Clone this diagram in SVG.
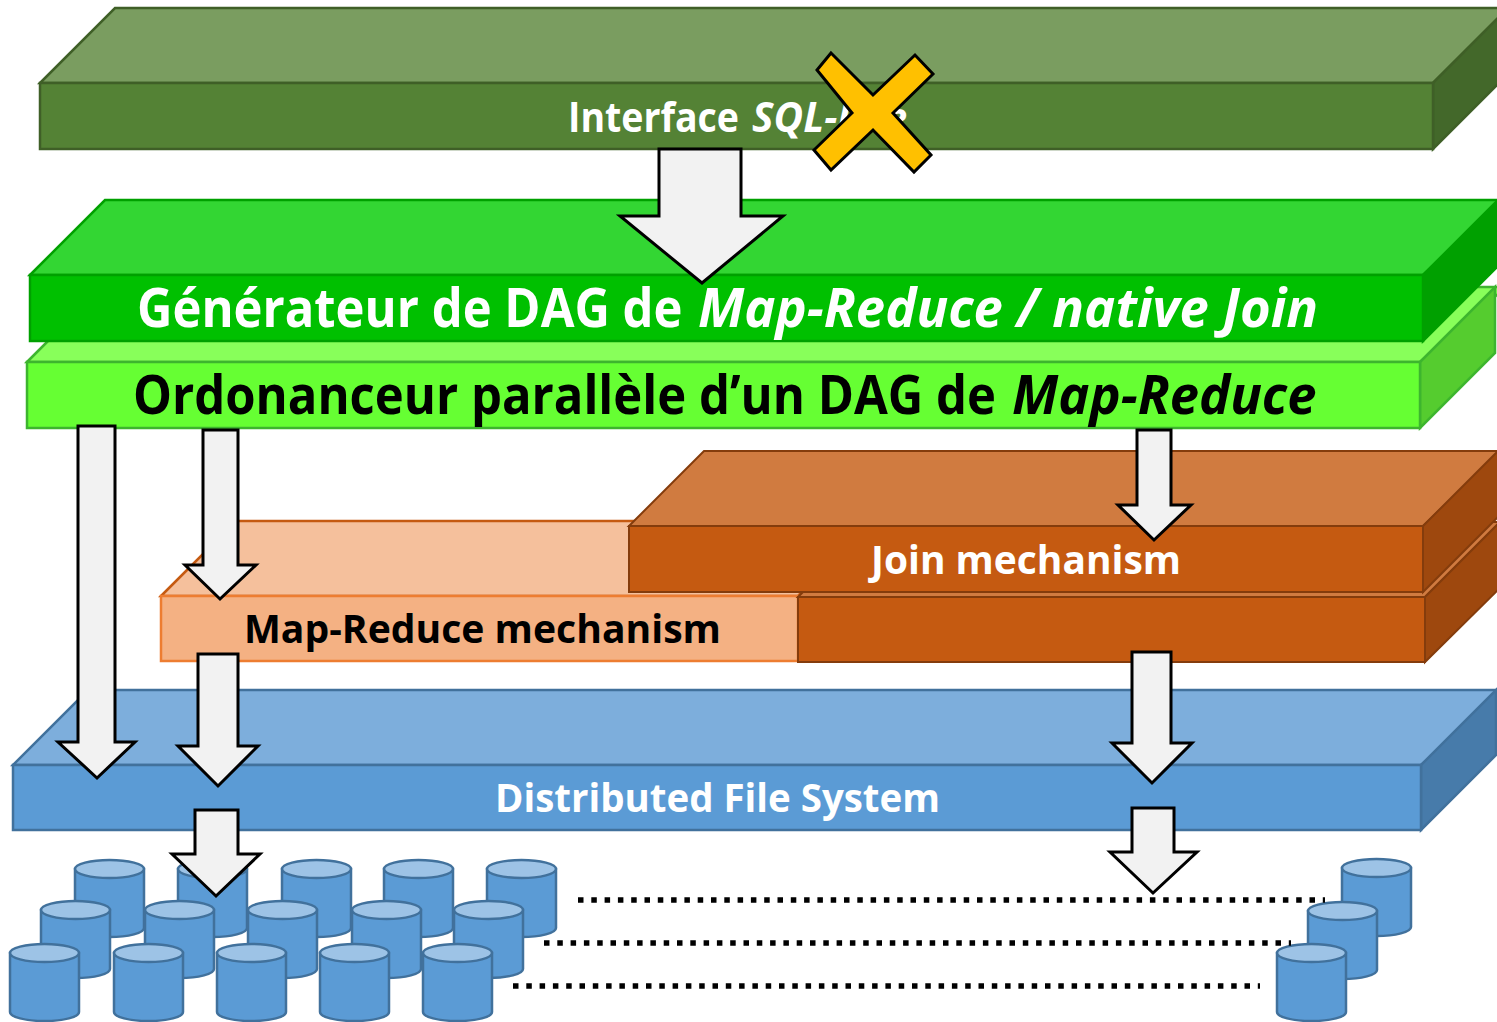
<svg xmlns="http://www.w3.org/2000/svg" xmlns:xlink="http://www.w3.org/1999/xlink" width="1497" height="1022" viewBox="0 0 1497 1022">
<style>
.lbl{font-family:"Open Sans","Noto Sans","Liberation Sans",sans-serif;font-weight:bold}
.w{fill:#FFFFFF}
.b{fill:#000000}
.it{font-style:italic}
.arrow{fill:#F2F2F2;stroke:#000;stroke-width:3;stroke-linejoin:miter}
.dots{stroke:#000;stroke-width:5.5;stroke-dasharray:5.5 7.8;fill:none}
.cylb{fill:#5B9BD5;stroke:#41719C;stroke-width:2.5}
.cylt{fill:#9DC3E6;stroke:#41719C;stroke-width:2.5}
</style>
<defs>
<g id="cyl">
<path class="cylb" d="M0,9 V68 A34.5,9 0 0 0 69,68 V9 Z"/>
<ellipse class="cylt" cx="34.5" cy="9" rx="34.5" ry="9"/>
</g>
</defs>

<!-- Interface layer -->
<g id="interface">
<polygon points="40,83 115,8 1508,8 1433,83" fill="#7A9D60" stroke="#3F5F27" stroke-width="2.5"/>
<polygon points="1433,83 1508,8 1508,74 1433,149" fill="#43682A" stroke="#3F5F27" stroke-width="2.5"/>
<rect x="40" y="83" width="1393" height="66" fill="#548235" stroke="#3F5F27" stroke-width="2.5"/>
<text class="lbl w" y="132" font-size="42"><tspan x="568" textLength="171" lengthAdjust="spacingAndGlyphs">Interface</tspan><tspan class="it" x="752" textLength="155" lengthAdjust="spacingAndGlyphs">SQL-like</tspan></text>
<polygon points="831,53 873,95 915,55 933,74 893,113 931,155 914,172 873,130 831,170 814,150 852,113 817,70" fill="#FFC000" stroke="#000" stroke-width="3" stroke-linejoin="miter"/>
</g>

<!-- Ordonanceur layer -->
<g id="ordonanceur">
<polygon points="27,362 102,287 1506,287 1420,362" fill="#88FF5A" stroke="#3DB52E" stroke-width="2.5"/>
<polygon points="1420,362 1495,287 1495,353 1420,428" fill="#55CC2F" stroke="#3DB52E" stroke-width="2.5"/>
<rect x="27" y="362" width="1393" height="66" fill="#66FF33" stroke="#3DB52E" stroke-width="2.5"/>
<text class="lbl b" transform="translate(133,414) scale(0.92,1)" x="0" y="0" font-size="53" textLength="938" lengthAdjust="spacingAndGlyphs">Ordonanceur parallèle d’un DAG de</text>
<text class="lbl b it" transform="translate(1012,414) scale(0.92,1)" x="0" y="0" font-size="53" textLength="331" lengthAdjust="spacingAndGlyphs">Map-Reduce</text>
</g>

<!-- Generateur layer -->
<g id="generateur">
<polygon points="30,275 105,200 1508,200 1423,275" fill="#33D633" stroke="#00A000" stroke-width="2.5"/>
<polygon points="1423,275 1498,200 1498,266 1423,341" fill="#00A000" stroke="#00A000" stroke-width="2.5"/>
<rect x="30" y="275" width="1393" height="66" fill="#00C000" stroke="#00A000" stroke-width="2.5"/>
<text class="lbl w" transform="translate(137,327) scale(0.92,1)" x="0" y="0" font-size="53" textLength="593" lengthAdjust="spacingAndGlyphs">Générateur de DAG de</text>
<text class="lbl w it" transform="translate(698,327) scale(0.92,1)" x="0" y="0" font-size="53" textLength="674" lengthAdjust="spacingAndGlyphs">Map-Reduce / native Join</text>
</g>

<!-- Map-Reduce mechanism layer -->
<g id="mapreduce">
<polygon points="161,596 236,521 873,521 798,596" fill="#F5C09C" stroke="#C55A11" stroke-width="2.5"/>
<rect x="161" y="596" width="637" height="65" fill="#F4B183" stroke="#ED7D31" stroke-width="2.5"/>
<text class="lbl b" x="244" y="643" font-size="39" textLength="477" lengthAdjust="spacingAndGlyphs">Map-Reduce mechanism</text>
</g>

<!-- lower dark orange block -->
<g id="joinlower">
<polygon points="798,597 873,522 1500,522 1425,597" fill="#D07B40" stroke="#843C0C" stroke-width="2"/>
<polygon points="1425,597 1500,522 1500,588 1425,662" fill="#9E480E" stroke="#843C0C" stroke-width="2"/>
<rect x="798" y="597" width="627" height="65" fill="#C55A11" stroke="#843C0C" stroke-width="2"/>
</g>

<!-- Join mechanism layer -->
<g id="join">
<polygon points="629,526 704,451 1500,451 1423,526" fill="#D07B40" stroke="#843C0C" stroke-width="2"/>
<polygon points="1423,526 1498,451 1498,517 1423,592" fill="#9E480E" stroke="#843C0C" stroke-width="2"/>
<rect x="629" y="526" width="794" height="66" fill="#C55A11" stroke="#843C0C" stroke-width="2"/>
<text class="lbl w" x="871" y="574" font-size="39" textLength="310" lengthAdjust="spacingAndGlyphs">Join mechanism</text>
</g>

<!-- Distributed File System layer -->
<g id="dfs">
<polygon points="13,765 88,690 1508,690 1421,765" fill="#7DAEDC" stroke="#41719C" stroke-width="2.5"/>
<polygon points="1421,765 1496,690 1496,755 1421,830" fill="#477BAA" stroke="#41719C" stroke-width="2.5"/>
<rect x="13" y="765" width="1408" height="65" fill="#5B9BD5" stroke="#41719C" stroke-width="2.5"/>
<text class="lbl w" x="495" y="812" font-size="40" textLength="445" lengthAdjust="spacingAndGlyphs">Distributed File System</text>
</g>

<!-- Disks -->
<g id="disks">
<use xlink:href="#cyl" x="75" y="860"/>
<use xlink:href="#cyl" x="178" y="860"/>
<use xlink:href="#cyl" x="282" y="860"/>
<use xlink:href="#cyl" x="384" y="860"/>
<use xlink:href="#cyl" x="487" y="860"/>
<use xlink:href="#cyl" x="41" y="901"/>
<use xlink:href="#cyl" x="145" y="901"/>
<use xlink:href="#cyl" x="248" y="901"/>
<use xlink:href="#cyl" x="352" y="901"/>
<use xlink:href="#cyl" x="454" y="901"/>
<use xlink:href="#cyl" x="10" y="944"/>
<use xlink:href="#cyl" x="114" y="944"/>
<use xlink:href="#cyl" x="217" y="944"/>
<use xlink:href="#cyl" x="320" y="944"/>
<use xlink:href="#cyl" x="423" y="944"/>
<use xlink:href="#cyl" x="1342" y="859"/>
<use xlink:href="#cyl" x="1308" y="902"/>
<use xlink:href="#cyl" x="1277" y="944"/>
</g>

<g id="dotted">
<line class="dots" x1="578" y1="900" x2="1325" y2="900"/>
<line class="dots" x1="544" y1="943" x2="1291" y2="943"/>
<line class="dots" x1="513" y1="986" x2="1260" y2="986"/>
</g>

<!-- Connectors -->
<g id="connectors">
<path class="arrow" d="M659,149 H741 V216 H783 L702,283 L620,216 H659 Z"/>
<path class="arrow" d="M78,426 H115 V742 H135 L97,778 L58,742 H78 Z"/>
<path class="arrow" d="M203,430 H238 V565 H256 L220,599 L185,565 H203 Z"/>
<path class="arrow" d="M198,654 H238 V746 H258 L218,786 L178,746 H198 Z"/>
<path class="arrow" d="M195,810 H238 V854 H260 L216,896 L172,854 H195 Z"/>
<path class="arrow" d="M1137,430 H1171 V505 H1191 L1154,540 L1118,505 H1137 Z"/>
<path class="arrow" d="M1132,652 H1171 V743 H1192 L1152,783 L1112,743 H1132 Z"/>
<path class="arrow" d="M1132,808 H1174 V852 H1197 L1153,893 L1110,852 H1132 Z"/>
</g>
</svg>
